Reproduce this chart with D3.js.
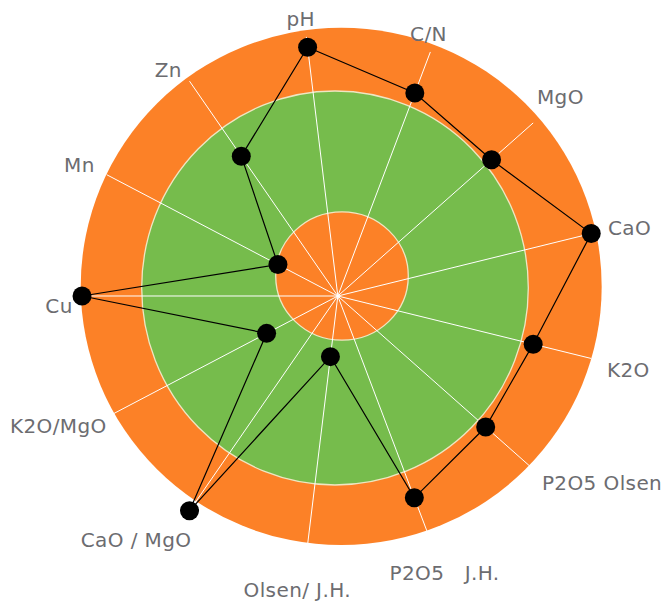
<!DOCTYPE html>
<html>
<head>
<meta charset="utf-8">
<script src="https://cdn.jsdelivr.net/npm/d3@7"></script>
<style>
  html, body { margin: 0; padding: 0; background: #ffffff; }
  svg { display: block; }
  .lbl { font-family: "DejaVu Sans", Verdana, sans-serif; font-size: 20px; fill: #6c6c70; white-space: pre; letter-spacing: 0.4px; }
</style>
</head>
<body>
<svg id="chart" width="662" height="603"></svg>
<script>
// ---- data ----
const categories = ["pH", "C/N", "MgO", "CaO", "K2O", "P2O5 Olsen", "P2O5   J.H.", "Olsen/ J.H.", "CaO / MgO", "K2O/MgO", "Cu", "Mn", "Zn"];
const values = [96, 83.2, 78.7, 100, 77.1, 75.7, 82.7, 23.4, 100, 30.8, 98, 25.9, 65.1];
const axisMax = 100;
const bandThresholds = [100, 75, 25];   // high / optimal / low zones
const bandColors = ["#FC8127", "#76BC4C", "#FC8127"];

// ---- layout ----
const W = 662, H = 603;
const cx = 337.8, cy = 296;
const rMax = 261;
const startDeg = -6.92;
// background picture is slightly off-centre in the original
const bandLayout = [
  { dx: 3.4, dy: -9.6, sx: 0.998, sy: 0.991, stroke: "none" },
  { dx: -2.8, dy: -8, sx: 0.9875, sy: 1.0064, stroke: "#EFE6C2" },
  { dx: 4.2, dy: -20, sx: 1.016, sy: 0.984, stroke: "#EFE6C2" }
];
const labelRadius = 270;
const labelNudge = [[-4.5, -9], [-5, -10], [-3, -20], [8, -3], [7, 9], [2, 8], [11, 24.5], [-8, 26], [7, 22], [8, 4.5], [5, 10], [-4, -5.5], [-2.5, -4]];

const svg = d3.select("#chart");
const g = svg.append("g").attr("transform", `translate(${cx},${cy})`);

const r = d3.scaleLinear().domain([0, axisMax]).range([0, rMax]);
const a0 = startDeg * Math.PI / 180;
const angle = d3.scaleBand().domain(categories).range([a0, a0 + 2 * Math.PI]).paddingInner(0).paddingOuter(0).align(0);

// background bands
g.selectAll("ellipse.band").data(bandThresholds).join("ellipse")
  .attr("class", "band")
  .attr("cx", (d, i) => bandLayout[i].dx)
  .attr("cy", (d, i) => bandLayout[i].dy)
  .attr("rx", (d, i) => r(d) * bandLayout[i].sx)
  .attr("ry", (d, i) => r(d) * bandLayout[i].sy)
  .attr("fill", (d, i) => bandColors[i])
  .attr("stroke", (d, i) => bandLayout[i].stroke)
  .attr("stroke-width", 1.3);

// spokes
g.selectAll("line.spoke").data(categories).join("line")
  .attr("class", "spoke")
  .attr("x1", 0).attr("y1", 0)
  .attr("x2", d => r(axisMax) * Math.sin(angle(d)))
  .attr("y2", d => -r(axisMax) * Math.cos(angle(d)))
  .attr("stroke", "#ffffff")
  .attr("stroke-width", 1);

// series line
const pts = categories.map((c, i) => ({ c, v: values[i] }));
const line = d3.lineRadial()
  .angle(d => angle(d.c))
  .radius(d => r(d.v))
  .curve(d3.curveLinearClosed);
g.append("path")
  .datum(pts)
  .attr("d", line)
  .attr("fill", "none")
  .attr("stroke", "#000000")
  .attr("stroke-width", 1.2);

// markers
g.selectAll("circle.pt").data(pts).join("circle")
  .attr("class", "pt")
  .attr("cx", d => r(d.v) * Math.sin(angle(d.c)))
  .attr("cy", d => -r(d.v) * Math.cos(angle(d.c)))
  .attr("r", 9.5)
  .attr("fill", "#000000");

// category labels
g.selectAll("text.lbl").data(categories).join("text")
  .attr("class", "lbl")
  .attr("x", (d, i) => labelRadius * Math.sin(angle(d)) + labelNudge[i][0])
  .attr("y", (d, i) => -labelRadius * Math.cos(angle(d)) + labelNudge[i][1])
  .attr("dy", "0.35em")
  .attr("text-anchor", d => {
    const s = Math.sin(angle(d));
    return s > 0.5 ? "start" : (s < -0.5 ? "end" : "middle");
  })
  .text(d => d);
</script>
</body>
</html>
